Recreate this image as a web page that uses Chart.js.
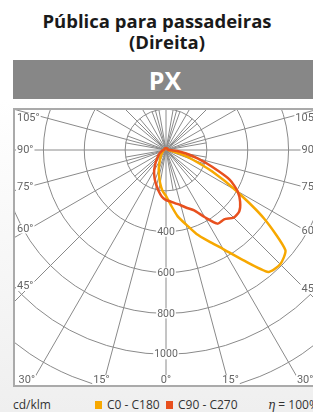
<!DOCTYPE html>
<html>
<head>
<meta charset="utf-8">
<script src="https://cdn.jsdelivr.net/npm/chart.js@4.4.0/dist/chart.umd.min.js"></script>
<style>
  html, body { margin: 0; padding: 0; }
  body {
    width: 313px; height: 412px; overflow: hidden; position: relative;
    background: linear-gradient(#fff 0px, #fff 100px, #efefef 412px);
    font-family: 'Open Sans', sans-serif;
  }
  .title { position: absolute; white-space: nowrap; font: 700 18.5px 'Open Sans', sans-serif; line-height: 22px; color: #1a1a1a; transform: translateX(-50%); }
  #band { position: absolute; left: 13px; top: 60px; width: 310px; height: 39px; background: #878787; }
  #band span { position: absolute; left: 152px; top: 3px; transform: translateX(-50%); font: 700 25px 'Open Sans', sans-serif; color: #fff; }
  #plot { position: absolute; left: 13px; top: 108px; width: 309px; height: 279px; overflow: hidden; background: #fff; }
  #plot canvas { position: absolute; }
  .leg { position: absolute; top: 397px; font-size: 12px; line-height: 16px; color: #333; white-space: nowrap; }
  .sw { position: absolute; top: 401px; width: 7px; height: 8px; }
</style>
</head>
<body>
<div class="title" style="left:157px; top:10px">Pública para passadeiras</div>
<div class="title" style="left:167px; top:31px">(Direita)</div>
<div id="band"><span>PX</span></div>
<div id="plot"><canvas id="polar" width="572" height="572"></canvas></div>
<div class="leg" style="left:13px">cd/klm</div>
<div class="sw" style="left:95px; background:#f7a800"></div>
<div class="leg" style="left:107px">C0 - C180</div>
<div class="sw" style="left:166px; background:#e8501e"></div>
<div class="leg" style="left:178px">C90 - C270</div>
<div class="leg" style="left:268px"><i style="font-family:'DejaVu Serif'">η</i> = 100%</div>
<script>
// gamma angles, degrees, clockwise on screen starting at nadir (toward C180 / C270 side first)
const angles = Array.from({ length: 72 }, (_, i) => i * 5);

// cd/klm, same order as angles
const c0c180 = [
  225, 200, 165, 130, 104, 80, 60, 48, 40, 34, 28, 24,
  20, 18, 16, 14, 12, 11, 10, 10, 9, 8, 8, 8,
  8, 8, 8, 8, 8, 8, 8, 8, 8, 8, 8, 8,
  8, 8, 8, 8, 8, 8, 8, 8, 8, 8, 8, 8,
  8, 8, 8, 8, 9, 10, 12, 15, 30, 75, 140, 250,
  392, 587, 763, 791, 779, 658, 560, 492, 437, 377, 330, 270
];
const c90c270 = [
  245, 230, 205, 180, 158, 136, 116, 95, 78, 64, 54, 46,
  38, 32, 26, 22, 18, 15, 12, 11, 10, 9, 9, 9,
  9, 9, 9, 9, 9, 9, 9, 9, 9, 9, 9, 9,
  9, 9, 9, 9, 9, 9, 9, 9, 9, 9, 9, 9,
  9, 9, 9, 9, 10, 12, 20, 55, 100, 160, 240, 345,
  405, 443, 468, 468, 443, 440, 380, 326, 302, 280, 265, 253
];

const radialTicks = [400, 600, 800, 1000];
const angleTicks = [0, 15, 30, 45, 60, 75, 90, 105];

const ORANGE = '#f7a800';
const RED = '#e8501e';
const GRID = '#8a8a8a';

// layout: plot box on the page and where the polar centre sits
const BOX_LEFT = 13, BOX_TOP = 108, BOX_W = 309, BOX_H = 279;
const CX = 166, CY = 150, RADIUS = 286;

const canvas = document.getElementById('polar');
canvas.style.left = (CX - RADIUS - BOX_LEFT) + 'px';
canvas.style.top = (CY - RADIUS - BOX_TOP) + 'px';

const polarDecor = {
  id: 'polarDecor',
  beforeDatasetsDraw(chart) {
    const r = chart.scales.r;
    const ctx = chart.ctx;
    ctx.save();
    ctx.strokeStyle = GRID;
    ctx.lineWidth = 1;
    angles.forEach((a, i) => {
      if (a % 10 !== 0 || a % 15 === 0) return;
      const p = r.getPointPositionForValue(i, 200);
      ctx.beginPath();
      ctx.moveTo(r.xCenter, r.yCenter);
      ctx.lineTo(p.x, p.y);
      ctx.stroke();
    });
    ctx.restore();
  },
  afterDraw(chart) {
    const r = chart.scales.r;
    const ctx = chart.ctx;
    const left = RADIUS - (CX - BOX_LEFT), top = RADIUS - (CY - BOX_TOP);
    const right = left + BOX_W, bottom = top + BOX_H;
    const xc = r.xCenter, yc = r.yCenter;

    ctx.save();
    ctx.textBaseline = 'middle';

    function label(text, x, y, align) {
      const w = ctx.measureText(text).width;
      let x0 = align === 'left' ? x : align === 'right' ? x - w : x - w / 2;
      ctx.fillStyle = '#fff';
      ctx.fillRect(x0 - 1, y - 5, w + 2, 10);
      ctx.fillStyle = '#666';
      ctx.textAlign = 'left';
      ctx.fillText(text, x0, y + 0.5);
    }

    // radial values along the nadir line
    ctx.font = '10.5px Roboto';
    radialTicks.forEach(v => {
      label(String(v), xc, yc + r.getDistanceFromCenterForValue(v), 'center');
    });

    // angle labels where the rays leave the box
    ctx.font = '11px Roboto';
    angleTicks.forEach(a => {
      [-1, 1].forEach(side => {
        if (a === 0 && side === -1) return;
        const idx = ((side === 1 ? 72 - a / 5 : a / 5) % 72);
        const p = r.getPointPositionForValue(idx, 1400);
        const dx = p.x - xc, dy = p.y - yc;
        const text = a + '°';
        const w = ctx.measureText(text).width;
        const bottomX = dy > 0 ? dx * (bottom - yc) / dy : Infinity;
        if (Math.abs(bottomX) < (side === 1 ? right - xc : xc - left)) {
          let x = xc + dx * (bottom + 4 - yc) / dy;
          x = Math.max(left + 4 + w / 2, Math.min(right - 4 - w / 2, x));
          label(text, x, bottom - 7, 'center');
        } else {
          const ax = side === 1 ? right - 17 : left + 17;
          let y = yc + dy * (ax - xc) / dx;
          y = Math.max(top + 10, y);
          if (side === 1) label(text, right - 4, y, 'right');
          else label(text, left + 4, y, 'left');
        }
      });
    });

    ctx.strokeStyle = '#aaa';
    ctx.lineWidth = 2;
    ctx.strokeRect(left + 1, top + 1, BOX_W - 2, BOX_H - 2);
    ctx.restore();
  }
};

new Chart(canvas, {
  type: 'radar',
  data: {
    labels: angles.map(a => a + '°'),
    datasets: [
      { label: 'C90 - C270', data: c90c270, borderColor: RED, borderWidth: 2.5, fill: false, pointRadius: 0, order: 0 },
      { label: 'C0 - C180', data: c0c180, borderColor: ORANGE, borderWidth: 2.5, fill: false, pointRadius: 0, order: 1 },
    ],
  },
  options: {
    responsive: false,
    animation: false,
    devicePixelRatio: 1,
    layout: { padding: 0 },
    elements: { line: { tension: 0.2 } },
    plugins: { legend: { display: false }, tooltip: { enabled: false } },
    scales: {
      r: {
        min: 0,
        max: 1400,
        startAngle: 180,
        ticks: { stepSize: 200, display: false },
        grid: { circular: true, color: GRID, lineWidth: 1 },
        angleLines: {
          color: GRID,
          lineWidth: ctx => (angles[ctx.index] % 15 === 0 ? 1 : 0),
        },
        pointLabels: { display: false },
      },
    },
  },
  plugins: [polarDecor],
});
</script>
</body>
</html>
